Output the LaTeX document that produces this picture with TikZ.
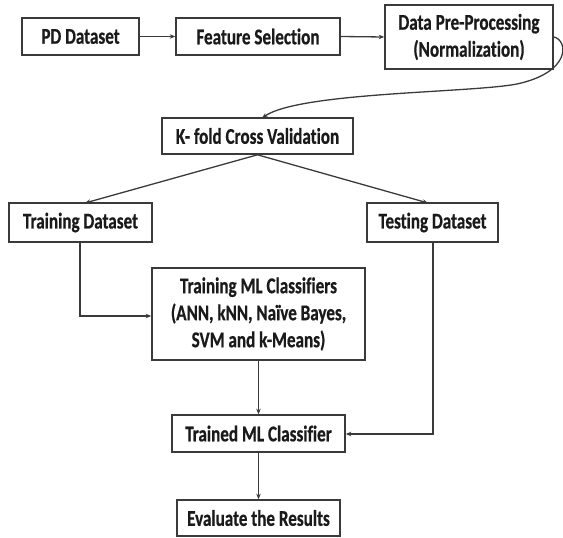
\documentclass[tikz,border=0pt]{standalone}
\usepackage{fontspec}
\setmainfont[FakeStretch=0.76, Ligatures=NoCommon, BoldFeatures={FakeBold=0.6}]{Carlito}
\usetikzlibrary{arrows.meta}
\definecolor{linegray}{HTML}{3A3A3A}
\definecolor{textgray}{HTML}{1A1A1A}
\tikzset{
  box/.style={draw=linegray, line width=1.6pt, fill=white, inner sep=0pt,
    align=center, text=textgray, font=\fontsize{22.5}{27}\selectfont\bfseries},
  conn/.style={draw=linegray, line width=1.3pt, -{Stealth[length=5.5pt,width=4.5pt]}},
}
\begin{document}
\begin{tikzpicture}[x=1pt,y=-1pt]
\useasboundingbox (0,0) rectangle (563,538);
\node[box, minimum width=117pt, minimum height=37pt] (pd) at (80.5,36.5) {PD Dataset};
\node[box, minimum width=164pt, minimum height=37pt] (fs) at (258,36.5) {Feature Selection};
\node[box, minimum width=168pt, minimum height=64pt] (dpp) at (469,37) {Data Pre-Processing\\(Normalization)};
\node[box, minimum width=191pt, minimum height=36pt] (kf) at (257.5,136) {K- fold Cross Validation};
\node[box, minimum width=143pt, minimum height=39pt] (trd) at (80.5,222.5) {Training Dataset};
\node[box, minimum width=131pt, minimum height=39pt] (ted) at (432.5,222.5) {Testing Dataset};
\node[box, minimum width=213pt, minimum height=92pt] (tml) at (258.5,314) {Training ML Classifiers\\(ANN, kNN, Naïve Bayes,\\SVM and k-Means)};
\node[box, minimum width=173pt, minimum height=37pt] (tdml) at (258.5,433.5) {Trained ML Classifier};
\node[box, minimum width=163pt, minimum height=36pt] (ev) at (258.5,518) {Evaluate the Results};

\coordinate (c1) at (568,40);
\coordinate (c2) at (572,72);
\coordinate (m) at (517,84);
\coordinate (c3) at (470,93);
\coordinate (c4) at (300,92);
\coordinate (kfin) at (262,118);
\coordinate (trdin) at (85,203);
\coordinate (tedin) at (428,203);
\coordinate (trdout) at (80,242);
\coordinate (trdbend) at (80,316);
\coordinate (tedout) at (433,242);
\coordinate (tedbend) at (433,434);

\draw[conn] (pd.east) -- (fs.west);
\draw[conn] (fs.east) -- (dpp.west);
\draw[conn] (dpp.east) .. controls (c1) and (c2) .. (m) .. controls (c3) and (c4) .. (kfin);
\draw[conn] (kf.south) -- (trdin);
\draw[conn] (kf.south) -- (tedin);
\draw[conn] (trdout) -- (trdbend) -- (tml.west |- trdbend);
\draw[conn] (tedout) -- (tedbend) -- (tdml.east |- tedbend);
\draw[conn] (tml.south) -- (tdml.north);
\draw[conn] (tdml.south) -- (ev.north);
\end{tikzpicture}
\end{document}
